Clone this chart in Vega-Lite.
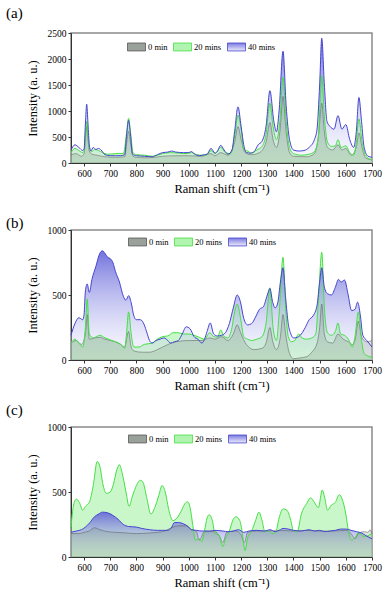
{
  "$schema": "https://vega.github.io/schema/vega-lite/v6.json",
  "padding": 5,
  "bounds": "flush",
  "spacing": 67,
  "config": {
    "font": "'Liberation Serif', 'Times New Roman', serif",
    "view": {"stroke": "#8a8a8a", "strokeWidth": 1.5},
    "axis": {"labelFont": "'Liberation Serif', 'Times New Roman', serif", "titleFont": "'Liberation Serif', 'Times New Roman', serif", "labelFontSize": 9.5, "titleFontSize": 12.5, "titleFontWeight": "normal", "labelColor": "#000", "titleColor": "#000", "domainColor": "#333", "tickColor": "#333", "tickSize": 3, "grid": false, "labelPadding": 2, "format": "d", "labelOverlap": false, "labelFlush": false, "labelBound": false},
    "axisX": {"titlePadding": 5},
    "axisY": {"titlePadding": 8},
    "title": {"font": "'Liberation Serif', 'Times New Roman', serif", "fontSize": 15, "fontWeight": "normal", "anchor": "start", "frame": "group", "dx": -65, "baseline": "bottom", "color": "#000"}
  },
  "resolve": {"scale": {"stroke": "independent"}, "legend": {"stroke": "independent"}},
  "datasets": {
    "a40": [{"x":550,"y":250},{"x":565,"y":350},{"x":580,"y":300},{"x":595,"y":240},{"x":600,"y":270},{"x":605,"y":750},{"x":610,"y":1130},{"x":615,"y":750},{"x":620,"y":350},{"x":626,"y":230},{"x":635,"y":300},{"x":645,"y":260},{"x":655,"y":280},{"x":665,"y":250},{"x":680,"y":160},{"x":700,"y":140},{"x":720,"y":140},{"x":740,"y":140},{"x":755,"y":160},{"x":763,"y":560},{"x":770,"y":820},{"x":777,"y":560},{"x":785,"y":170},{"x":800,"y":140},{"x":830,"y":130},{"x":860,"y":120},{"x":880,"y":160},{"x":900,"y":200},{"x":920,"y":210},{"x":935,"y":230},{"x":950,"y":210},{"x":980,"y":200},{"x":1000,"y":200},{"x":1010,"y":220},{"x":1020,"y":180},{"x":1040,"y":140},{"x":1060,"y":160},{"x":1070,"y":170},{"x":1085,"y":280},{"x":1100,"y":190},{"x":1110,"y":230},{"x":1122,"y":340},{"x":1135,"y":250},{"x":1150,"y":170},{"x":1165,"y":250},{"x":1175,"y":600},{"x":1188,"y":1080},{"x":1200,"y":700},{"x":1210,"y":350},{"x":1220,"y":200},{"x":1235,"y":190},{"x":1250,"y":220},{"x":1265,"y":350},{"x":1280,"y":420},{"x":1295,"y":700},{"x":1310,"y":1390},{"x":1325,"y":800},{"x":1335,"y":600},{"x":1345,"y":1000},{"x":1360,"y":2150},{"x":1372,"y":1100},{"x":1385,"y":450},{"x":1400,"y":250},{"x":1420,"y":230},{"x":1440,"y":240},{"x":1460,"y":300},{"x":1480,"y":450},{"x":1490,"y":650},{"x":1500,"y":1500},{"x":1508,"y":2400},{"x":1518,"y":1500},{"x":1528,"y":800},{"x":1540,"y":700},{"x":1555,"y":650},{"x":1570,"y":910},{"x":1585,"y":650},{"x":1600,"y":740},{"x":1615,"y":450},{"x":1630,"y":300},{"x":1640,"y":600},{"x":1650,"y":1260},{"x":1660,"y":800},{"x":1670,"y":300},{"x":1685,"y":130},{"x":1700,"y":110}],
    "a20": [{"x":550,"y":200},{"x":565,"y":280},{"x":580,"y":240},{"x":595,"y":200},{"x":600,"y":230},{"x":605,"y":520},{"x":610,"y":800},{"x":615,"y":520},{"x":620,"y":290},{"x":630,"y":220},{"x":640,"y":260},{"x":655,"y":240},{"x":670,"y":200},{"x":690,"y":170},{"x":710,"y":175},{"x":730,"y":185},{"x":750,"y":180},{"x":762,"y":560},{"x":770,"y":860},{"x":778,"y":560},{"x":787,"y":200},{"x":800,"y":160},{"x":830,"y":150},{"x":860,"y":130},{"x":880,"y":150},{"x":900,"y":180},{"x":930,"y":200},{"x":960,"y":190},{"x":990,"y":180},{"x":1010,"y":200},{"x":1030,"y":160},{"x":1050,"y":150},{"x":1070,"y":160},{"x":1085,"y":240},{"x":1100,"y":180},{"x":1122,"y":300},{"x":1140,"y":200},{"x":1160,"y":180},{"x":1175,"y":500},{"x":1188,"y":920},{"x":1200,"y":650},{"x":1210,"y":260},{"x":1225,"y":230},{"x":1240,"y":190},{"x":1260,"y":250},{"x":1280,"y":320},{"x":1295,"y":550},{"x":1310,"y":1150},{"x":1322,"y":700},{"x":1335,"y":450},{"x":1348,"y":800},{"x":1360,"y":1650},{"x":1372,"y":800},{"x":1385,"y":300},{"x":1400,"y":180},{"x":1430,"y":150},{"x":1460,"y":170},{"x":1480,"y":220},{"x":1495,"y":500},{"x":1508,"y":1680},{"x":1518,"y":900},{"x":1530,"y":400},{"x":1545,"y":320},{"x":1560,"y":330},{"x":1570,"y":450},{"x":1582,"y":300},{"x":1600,"y":330},{"x":1615,"y":200},{"x":1630,"y":150},{"x":1640,"y":400},{"x":1650,"y":850},{"x":1662,"y":400},{"x":1675,"y":150},{"x":1690,"y":80},{"x":1700,"y":70}],
    "a0": [{"x":550,"y":160},{"x":570,"y":180},{"x":590,"y":130},{"x":600,"y":180},{"x":605,"y":450},{"x":610,"y":700},{"x":615,"y":450},{"x":620,"y":230},{"x":630,"y":170},{"x":650,"y":150},{"x":680,"y":120},{"x":720,"y":110},{"x":755,"y":120},{"x":763,"y":400},{"x":770,"y":610},{"x":777,"y":400},{"x":787,"y":130},{"x":800,"y":110},{"x":830,"y":100},{"x":870,"y":110},{"x":900,"y":130},{"x":950,"y":140},{"x":1000,"y":140},{"x":1050,"y":130},{"x":1085,"y":180},{"x":1100,"y":140},{"x":1122,"y":200},{"x":1150,"y":150},{"x":1175,"y":400},{"x":1188,"y":700},{"x":1200,"y":450},{"x":1215,"y":200},{"x":1240,"y":160},{"x":1270,"y":200},{"x":1295,"y":400},{"x":1310,"y":780},{"x":1322,"y":450},{"x":1335,"y":300},{"x":1348,"y":600},{"x":1360,"y":1280},{"x":1372,"y":600},{"x":1385,"y":200},{"x":1400,"y":130},{"x":1450,"y":120},{"x":1480,"y":180},{"x":1495,"y":500},{"x":1508,"y":1150},{"x":1518,"y":600},{"x":1530,"y":300},{"x":1550,"y":250},{"x":1570,"y":350},{"x":1585,"y":250},{"x":1600,"y":280},{"x":1620,"y":150},{"x":1640,"y":300},{"x":1650,"y":580},{"x":1662,"y":300},{"x":1675,"y":100},{"x":1700,"y":60}],
    "b40": [{"x":550,"y":190},{"x":565,"y":280},{"x":580,"y":325},{"x":595,"y":310},{"x":600,"y":350},{"x":605,"y":530},{"x":612,"y":585},{"x":620,"y":520},{"x":630,"y":620},{"x":645,"y":720},{"x":660,"y":820},{"x":670,"y":840},{"x":680,"y":820},{"x":690,"y":790},{"x":700,"y":780},{"x":710,"y":750},{"x":720,"y":680},{"x":735,"y":600},{"x":750,"y":490},{"x":760,"y":460},{"x":770,"y":495},{"x":780,"y":440},{"x":790,"y":340},{"x":800,"y":310},{"x":815,"y":310},{"x":830,"y":270},{"x":840,"y":210},{"x":850,"y":150},{"x":860,"y":130},{"x":875,"y":150},{"x":890,"y":160},{"x":905,"y":170},{"x":920,"y":150},{"x":930,"y":130},{"x":945,"y":140},{"x":960,"y":150},{"x":975,"y":200},{"x":990,"y":255},{"x":1005,"y":240},{"x":1020,"y":180},{"x":1035,"y":160},{"x":1050,"y":130},{"x":1060,"y":160},{"x":1070,"y":220},{"x":1082,"y":285},{"x":1095,"y":200},{"x":1110,"y":185},{"x":1125,"y":190},{"x":1140,"y":210},{"x":1155,"y":280},{"x":1170,"y":400},{"x":1185,"y":500},{"x":1197,"y":450},{"x":1210,"y":320},{"x":1225,"y":270},{"x":1240,"y":280},{"x":1255,"y":330},{"x":1270,"y":390},{"x":1285,"y":410},{"x":1300,"y":500},{"x":1310,"y":550},{"x":1320,"y":450},{"x":1330,"y":400},{"x":1340,"y":440},{"x":1350,"y":600},{"x":1360,"y":710},{"x":1370,"y":480},{"x":1380,"y":280},{"x":1390,"y":200},{"x":1400,"y":170},{"x":1415,"y":175},{"x":1430,"y":200},{"x":1445,"y":250},{"x":1460,"y":310},{"x":1475,"y":340},{"x":1490,"y":420},{"x":1500,"y":600},{"x":1508,"y":710},{"x":1518,"y":560},{"x":1530,"y":510},{"x":1545,"y":500},{"x":1560,"y":560},{"x":1572,"y":620},{"x":1582,"y":600},{"x":1595,"y":615},{"x":1608,"y":510},{"x":1622,"y":380},{"x":1635,"y":390},{"x":1645,"y":445},{"x":1655,"y":350},{"x":1665,"y":190},{"x":1680,"y":150},{"x":1700,"y":100}],
    "b20": [{"x":550,"y":130},{"x":565,"y":160},{"x":580,"y":130},{"x":595,"y":100},{"x":605,"y":250},{"x":612,"y":470},{"x":620,"y":200},{"x":635,"y":170},{"x":660,"y":190},{"x":680,"y":170},{"x":700,"y":155},{"x":720,"y":140},{"x":740,"y":120},{"x":755,"y":90},{"x":762,"y":200},{"x":770,"y":370},{"x":780,"y":200},{"x":790,"y":100},{"x":810,"y":100},{"x":830,"y":120},{"x":860,"y":130},{"x":880,"y":160},{"x":900,"y":180},{"x":920,"y":185},{"x":940,"y":210},{"x":960,"y":210},{"x":980,"y":200},{"x":1000,"y":200},{"x":1020,"y":190},{"x":1040,"y":175},{"x":1060,"y":160},{"x":1080,"y":210},{"x":1095,"y":180},{"x":1110,"y":175},{"x":1122,"y":230},{"x":1135,"y":180},{"x":1150,"y":170},{"x":1165,"y":250},{"x":1175,"y":370},{"x":1185,"y":430},{"x":1198,"y":320},{"x":1210,"y":180},{"x":1225,"y":160},{"x":1240,"y":150},{"x":1260,"y":160},{"x":1280,"y":180},{"x":1295,"y":280},{"x":1310,"y":555},{"x":1322,"y":250},{"x":1335,"y":150},{"x":1345,"y":350},{"x":1360,"y":790},{"x":1370,"y":400},{"x":1380,"y":180},{"x":1392,"y":140},{"x":1405,"y":150},{"x":1420,"y":200},{"x":1432,"y":170},{"x":1450,"y":160},{"x":1470,"y":170},{"x":1485,"y":200},{"x":1495,"y":450},{"x":1508,"y":830},{"x":1518,"y":400},{"x":1530,"y":210},{"x":1545,"y":190},{"x":1560,"y":220},{"x":1570,"y":285},{"x":1580,"y":200},{"x":1595,"y":190},{"x":1610,"y":160},{"x":1625,"y":100},{"x":1635,"y":180},{"x":1648,"y":370},{"x":1660,"y":150},{"x":1670,"y":50},{"x":1685,"y":30},{"x":1700,"y":20}],
    "b0": [{"x":550,"y":130},{"x":570,"y":150},{"x":590,"y":120},{"x":605,"y":200},{"x":612,"y":350},{"x":620,"y":160},{"x":640,"y":170},{"x":660,"y":175},{"x":680,"y":160},{"x":700,"y":150},{"x":720,"y":140},{"x":740,"y":120},{"x":755,"y":100},{"x":770,"y":220},{"x":780,"y":100},{"x":790,"y":70},{"x":820,"y":60},{"x":850,"y":60},{"x":880,"y":80},{"x":900,"y":100},{"x":950,"y":140},{"x":1000,"y":150},{"x":1050,"y":150},{"x":1080,"y":170},{"x":1100,"y":160},{"x":1125,"y":180},{"x":1150,"y":150},{"x":1170,"y":200},{"x":1185,"y":270},{"x":1200,"y":200},{"x":1220,"y":120},{"x":1250,"y":80},{"x":1280,"y":90},{"x":1295,"y":130},{"x":1310,"y":250},{"x":1320,"y":150},{"x":1335,"y":80},{"x":1350,"y":180},{"x":1360,"y":350},{"x":1370,"y":200},{"x":1385,"y":50},{"x":1400,"y":10},{"x":1420,"y":15},{"x":1450,"y":25},{"x":1470,"y":60},{"x":1490,"y":130},{"x":1500,"y":250},{"x":1508,"y":430},{"x":1518,"y":200},{"x":1530,"y":140},{"x":1550,"y":130},{"x":1570,"y":200},{"x":1590,"y":160},{"x":1610,"y":140},{"x":1625,"y":120},{"x":1635,"y":150},{"x":1648,"y":300},{"x":1660,"y":180},{"x":1680,"y":140},{"x":1700,"y":150}],
    "c40": [{"x":550,"y":190},{"x":570,"y":200},{"x":590,"y":210},{"x":605,"y":230},{"x":620,"y":260},{"x":640,"y":310},{"x":655,"y":330},{"x":670,"y":345},{"x":690,"y":340},{"x":710,"y":320},{"x":730,"y":290},{"x":750,"y":250},{"x":770,"y":235},{"x":800,"y":230},{"x":820,"y":220},{"x":850,"y":210},{"x":880,"y":205},{"x":900,"y":205},{"x":920,"y":205},{"x":935,"y":230},{"x":945,"y":265},{"x":960,"y":265},{"x":980,"y":255},{"x":1000,"y":230},{"x":1010,"y":210},{"x":1030,"y":205},{"x":1050,"y":200},{"x":1080,"y":200},{"x":1100,"y":205},{"x":1130,"y":200},{"x":1150,"y":195},{"x":1170,"y":200},{"x":1190,"y":210},{"x":1210,"y":190},{"x":1230,"y":200},{"x":1260,"y":205},{"x":1290,"y":200},{"x":1310,"y":210},{"x":1330,"y":195},{"x":1350,"y":210},{"x":1360,"y":220},{"x":1380,"y":215},{"x":1400,"y":205},{"x":1430,"y":200},{"x":1460,"y":210},{"x":1480,"y":200},{"x":1500,"y":205},{"x":1520,"y":195},{"x":1540,"y":200},{"x":1560,"y":205},{"x":1580,"y":215},{"x":1600,"y":215},{"x":1620,"y":205},{"x":1640,"y":195},{"x":1660,"y":185},{"x":1680,"y":160},{"x":1700,"y":140}],
    "c20": [{"x":550,"y":230},{"x":560,"y":400},{"x":570,"y":445},{"x":582,"y":420},{"x":595,"y":360},{"x":605,"y":390},{"x":620,"y":420},{"x":635,"y":550},{"x":650,"y":735},{"x":660,"y":700},{"x":672,"y":560},{"x":685,"y":490},{"x":700,"y":500},{"x":712,"y":560},{"x":725,"y":670},{"x":735,"y":710},{"x":745,"y":650},{"x":760,"y":500},{"x":772,"y":390},{"x":785,"y":470},{"x":800,"y":550},{"x":815,"y":590},{"x":825,"y":575},{"x":840,"y":450},{"x":855,"y":330},{"x":870,"y":380},{"x":885,"y":470},{"x":898,"y":550},{"x":910,"y":500},{"x":925,"y":350},{"x":940,"y":280},{"x":955,"y":300},{"x":970,"y":350},{"x":985,"y":410},{"x":995,"y":425},{"x":1005,"y":380},{"x":1015,"y":250},{"x":1025,"y":130},{"x":1040,"y":140},{"x":1050,"y":120},{"x":1060,"y":200},{"x":1070,"y":300},{"x":1078,"y":325},{"x":1090,"y":280},{"x":1100,"y":180},{"x":1115,"y":170},{"x":1130,"y":80},{"x":1140,"y":140},{"x":1155,"y":200},{"x":1170,"y":290},{"x":1180,"y":310},{"x":1195,"y":280},{"x":1205,"y":180},{"x":1215,"y":50},{"x":1225,"y":150},{"x":1240,"y":200},{"x":1255,"y":280},{"x":1268,"y":345},{"x":1280,"y":280},{"x":1290,"y":200},{"x":1305,"y":200},{"x":1320,"y":180},{"x":1332,"y":190},{"x":1345,"y":300},{"x":1360,"y":370},{"x":1375,"y":360},{"x":1390,"y":280},{"x":1400,"y":200},{"x":1415,"y":200},{"x":1430,"y":330},{"x":1450,"y":410},{"x":1465,"y":455},{"x":1480,"y":420},{"x":1495,"y":380},{"x":1510,"y":515},{"x":1520,"y":450},{"x":1530,"y":360},{"x":1545,"y":400},{"x":1560,"y":420},{"x":1575,"y":480},{"x":1585,"y":450},{"x":1600,"y":330},{"x":1610,"y":200},{"x":1622,"y":130},{"x":1635,"y":150},{"x":1650,"y":190},{"x":1665,"y":160},{"x":1680,"y":160},{"x":1690,"y":170},{"x":1700,"y":180}],
    "c0": [{"x":550,"y":180},{"x":580,"y":180},{"x":600,"y":190},{"x":620,"y":200},{"x":640,"y":225},{"x":660,"y":210},{"x":690,"y":195},{"x":720,"y":190},{"x":760,"y":185},{"x":800,"y":180},{"x":850,"y":185},{"x":900,"y":195},{"x":940,"y":230},{"x":960,"y":240},{"x":990,"y":240},{"x":1010,"y":210},{"x":1028,"y":200},{"x":1040,"y":130},{"x":1060,"y":195},{"x":1100,"y":195},{"x":1120,"y":150},{"x":1130,"y":110},{"x":1145,"y":190},{"x":1180,"y":200},{"x":1200,"y":170},{"x":1212,"y":110},{"x":1225,"y":190},{"x":1260,"y":200},{"x":1300,"y":200},{"x":1350,"y":205},{"x":1400,"y":200},{"x":1450,"y":205},{"x":1500,"y":200},{"x":1550,"y":200},{"x":1600,"y":205},{"x":1620,"y":180},{"x":1635,"y":140},{"x":1650,"y":185},{"x":1670,"y":195},{"x":1685,"y":190},{"x":1692,"y":210},{"x":1700,"y":175}]
  },
  "vconcat": [
    {
      "width": 301, "height": 130,
      "title": {"text": "(a)", "offset": 7},
      "encoding": {
        "x": {"field": "x", "type": "quantitative", "scale": {"domain": [550, 1700], "nice": false}, "axis": {"values": [600,700,800,900,1000,1100,1200,1300,1400,1500,1600,1700], "title": "Raman shift (cm⁻¹)"}},
        "y": {"field": "y", "type": "quantitative", "scale": {"domain": [0, 2500], "nice": false}, "axis": {"values": [0,500,1000,1500,2000,2500], "title": "Intensity (a. u.)"}}
      },
      "layer": [
        {"data": {"name": "a20"}, "mark": {"type": "area", "interpolate": "monotone", "fill": "rgba(150,240,150,0.5)"}},
        {"data": {"name": "a40"}, "mark": {"type": "area", "interpolate": "monotone", "fill": {"gradient": "linear", "x1": 0, "y1": 0, "x2": 0, "y2": 1, "stops": [{"offset": 0, "color": "rgba(90,90,215,0.85)"}, {"offset": 1, "color": "rgba(230,230,252,0.25)"}]}}},
        {"data": {"name": "a0"}, "mark": {"type": "area", "interpolate": "monotone", "fill": "rgba(120,140,125,0.24)"}},
        {"data": {"name": "a0"}, "mark": {"type": "line", "interpolate": "monotone", "strokeWidth": 0.5}, "encoding": {"stroke": {"datum": "0 min", "scale": {"domain": ["0 min", "20 mins", "40 mins"], "range": ["#555555", "#44e044", "#4545cf"]}, "legend": {"title": null, "orient": "none", "legendX": 56, "legendY": 4, "direction": "horizontal", "symbolType": "M-1,-0.44H1V0.44H-1Z", "symbolSize": 324, "labelFont": "'Liberation Serif', 'Times New Roman', serif", "labelFontSize": 8.5, "labelOffset": 2, "columnPadding": 3, "symbolStrokeWidth": 0.8, "encode": {"symbols": {"update": {"fill": [{"test": "datum.value === '0 min'", "value": "#9aa09a"}, {"test": "datum.value === '20 mins'", "value": "#b0f4b0"}, {"value": {"gradient": "linear", "x1": 0, "y1": 0, "x2": 0, "y2": 1, "stops": [{"offset": 0, "color": "#7a7ae0"}, {"offset": 1, "color": "#ececfc"}]}}], "opacity": {"value": 1}}}}}}}},
        {"data": {"name": "a20"}, "mark": {"type": "line", "interpolate": "monotone", "strokeWidth": 1}, "encoding": {"stroke": {"datum": "20 mins"}}},
        {"data": {"name": "a40"}, "mark": {"type": "line", "interpolate": "monotone", "strokeWidth": 1}, "encoding": {"stroke": {"datum": "40 mins"}}}
      ]
    },
    {
      "width": 301, "height": 130,
      "title": {"text": "(b)", "offset": -5.5},
      "encoding": {
        "x": {"field": "x", "type": "quantitative", "scale": {"domain": [550, 1700], "nice": false}, "axis": {"values": [600,700,800,900,1000,1100,1200,1300,1400,1500,1600,1700], "title": "Raman shift (cm⁻¹)"}},
        "y": {"field": "y", "type": "quantitative", "scale": {"domain": [0, 1000], "nice": false}, "axis": {"values": [0,500,1000], "title": "Intensity (a. u.)"}}
      },
      "layer": [
        {"data": {"name": "b20"}, "mark": {"type": "area", "interpolate": "monotone", "fill": "rgba(150,240,150,0.5)"}},
        {"data": {"name": "b40"}, "mark": {"type": "area", "interpolate": "monotone", "fill": {"gradient": "linear", "x1": 0, "y1": 0, "x2": 0, "y2": 1, "stops": [{"offset": 0, "color": "rgba(90,90,215,0.85)"}, {"offset": 1, "color": "rgba(230,230,252,0.25)"}]}}},
        {"data": {"name": "b0"}, "mark": {"type": "area", "interpolate": "monotone", "fill": "rgba(120,140,125,0.24)"}},
        {"data": {"name": "b0"}, "mark": {"type": "line", "interpolate": "monotone", "strokeWidth": 0.5}, "encoding": {"stroke": {"datum": "0 min", "scale": {"domain": ["0 min", "20 mins", "40 mins"], "range": ["#555555", "#44e044", "#4545cf"]}, "legend": {"title": null, "orient": "none", "legendX": 57, "legendY": 2, "direction": "horizontal", "symbolType": "M-1,-0.44H1V0.44H-1Z", "symbolSize": 324, "labelFont": "'Liberation Serif', 'Times New Roman', serif", "labelFontSize": 8.5, "labelOffset": 2, "columnPadding": 3, "symbolStrokeWidth": 0.8, "encode": {"symbols": {"update": {"fill": [{"test": "datum.value === '0 min'", "value": "#9aa09a"}, {"test": "datum.value === '20 mins'", "value": "#b0f4b0"}, {"value": {"gradient": "linear", "x1": 0, "y1": 0, "x2": 0, "y2": 1, "stops": [{"offset": 0, "color": "#7a7ae0"}, {"offset": 1, "color": "#ececfc"}]}}], "opacity": {"value": 1}}}}}}}},
        {"data": {"name": "b20"}, "mark": {"type": "line", "interpolate": "monotone", "strokeWidth": 1}, "encoding": {"stroke": {"datum": "20 mins"}}},
        {"data": {"name": "b40"}, "mark": {"type": "line", "interpolate": "monotone", "strokeWidth": 1}, "encoding": {"stroke": {"datum": "40 mins"}}}
      ]
    },
    {
      "width": 301, "height": 130,
      "title": {"text": "(c)", "offset": 4},
      "encoding": {
        "x": {"field": "x", "type": "quantitative", "scale": {"domain": [550, 1700], "nice": false}, "axis": {"values": [600,700,800,900,1000,1100,1200,1300,1400,1500,1600,1700], "title": "Raman shift (cm⁻¹)"}},
        "y": {"field": "y", "type": "quantitative", "scale": {"domain": [0, 1000], "nice": false}, "axis": {"values": [0,500,1000], "title": "Intensity (a. u.)"}}
      },
      "layer": [
        {"data": {"name": "c20"}, "mark": {"type": "area", "interpolate": "monotone", "fill": "rgba(150,240,150,0.5)"}},
        {"data": {"name": "c40"}, "mark": {"type": "area", "interpolate": "monotone", "fill": {"gradient": "linear", "x1": 0, "y1": 0, "x2": 0, "y2": 1, "stops": [{"offset": 0, "color": "rgba(90,90,215,0.85)"}, {"offset": 1, "color": "rgba(230,230,252,0.25)"}]}}},
        {"data": {"name": "c0"}, "mark": {"type": "area", "interpolate": "monotone", "fill": "rgba(120,140,125,0.24)"}},
        {"data": {"name": "c0"}, "mark": {"type": "line", "interpolate": "monotone", "strokeWidth": 0.5}, "encoding": {"stroke": {"datum": "0 min", "scale": {"domain": ["0 min", "20 mins", "40 mins"], "range": ["#555555", "#44e044", "#4545cf"]}, "legend": {"title": null, "orient": "none", "legendX": 57, "legendY": 2, "direction": "horizontal", "symbolType": "M-1,-0.44H1V0.44H-1Z", "symbolSize": 324, "labelFont": "'Liberation Serif', 'Times New Roman', serif", "labelFontSize": 8.5, "labelOffset": 2, "columnPadding": 3, "symbolStrokeWidth": 0.8, "encode": {"symbols": {"update": {"fill": [{"test": "datum.value === '0 min'", "value": "#9aa09a"}, {"test": "datum.value === '20 mins'", "value": "#b0f4b0"}, {"value": {"gradient": "linear", "x1": 0, "y1": 0, "x2": 0, "y2": 1, "stops": [{"offset": 0, "color": "#7a7ae0"}, {"offset": 1, "color": "#ececfc"}]}}], "opacity": {"value": 1}}}}}}}},
        {"data": {"name": "c20"}, "mark": {"type": "line", "interpolate": "monotone", "strokeWidth": 1}, "encoding": {"stroke": {"datum": "20 mins"}}},
        {"data": {"name": "c40"}, "mark": {"type": "line", "interpolate": "monotone", "strokeWidth": 1}, "encoding": {"stroke": {"datum": "40 mins"}}}
      ]
    }
  ]
}
